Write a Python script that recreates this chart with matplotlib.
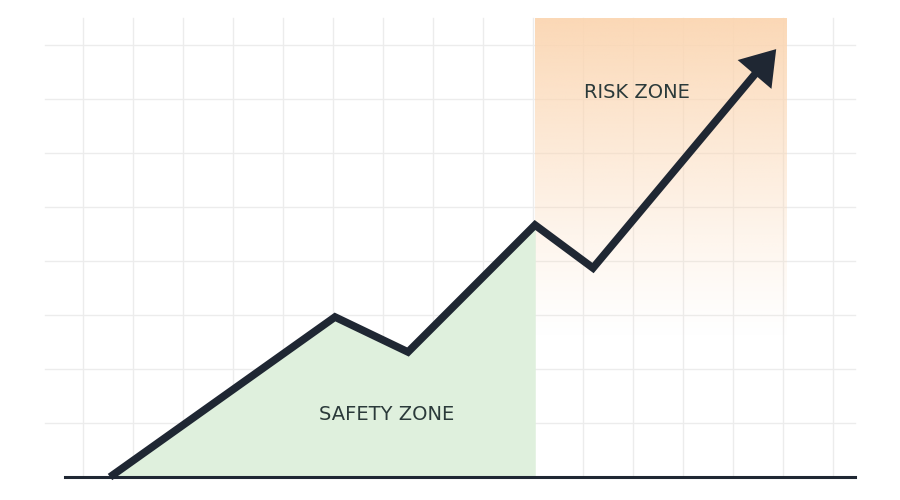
import numpy as np
import matplotlib
matplotlib.use("Agg")
import matplotlib.pyplot as plt
from matplotlib.patches import FancyArrowPatch

# data (in chart units)
line_x = [110, 335, 408, 535, 593, 778]
line_y = [0, 160, 125, 252, 209, 430]
grid_x = [83, 133, 183, 233, 283, 333, 383, 433, 483, 533, 583, 633, 683, 733, 783, 833]
grid_y = [54, 108, 162, 216, 270, 324, 378, 432]
split_x = 535
risk_right = 787
top = 459

fig = plt.figure(figsize=(9, 5), dpi=100)
ax = fig.add_axes([0, 0, 1, 1])
ax.set_xlim(0, 900)
ax.set_ylim(-23, 477)
ax.axis('off')

for gx in grid_x:
    ax.plot([gx, gx], [0, top], color='#ececec', lw=1, zorder=0)
for gy in grid_y:
    ax.plot([45, 855], [gy, gy], color='#ececec', lw=1, zorder=0)

# risk gradient
h = 200
grad = np.zeros((h, 1, 4))
c = np.array([251, 214, 178]) / 255
t = np.linspace(1, 0, h)
grad[:, 0, :3] = c
grad[:, 0, 3] = np.clip((t - 0.3) / 0.7, 0, 1) ** 1.2 * 0.95
ax.imshow(grad, extent=[split_x, risk_right, 0, top], aspect='auto', origin='upper', zorder=1)

# safety fill
xs = np.array(line_x[:4])
ys = np.array(line_y[:4])
ax.fill_between(xs, 0, ys, color='#dff0dd', zorder=1, lw=0)
ax.fill_between([line_x[3], line_x[3]], 0, 0)
ax.fill_between([line_x[2], split_x], [0, 0], [line_y[2], line_y[3]], color='#dff0dd', lw=0, zorder=1)

ax.plot([65, 855], [0, 0], color='#1f2733', lw=2.2, zorder=3)
ax.plot(line_x[:-1] + [line_x[-1] - 12], line_y[:-1] + [line_y[-1] - 14], color='#1f2733', lw=5.5,
        solid_joinstyle='miter', solid_capstyle='butt', zorder=4)
arr = FancyArrowPatch((line_x[-2] + 150, line_y[-2] + 180), (line_x[-1], line_y[-1]),
                      arrowstyle='-|>,head_length=12,head_width=8', mutation_scale=2,
                      color='#1f2733', lw=0, zorder=5)
ax.add_patch(arr)

ax.text(637, 385, 'RISK ZONE', ha='center', va='center', fontsize=14, color='#2b3a3a',
        family='DejaVu Sans')
ax.text(387, 63, 'SAFETY ZONE', ha='center', va='center', fontsize=14, color='#2b3a3a',
        family='DejaVu Sans')

fig.savefig('out.png', dpi=100)
